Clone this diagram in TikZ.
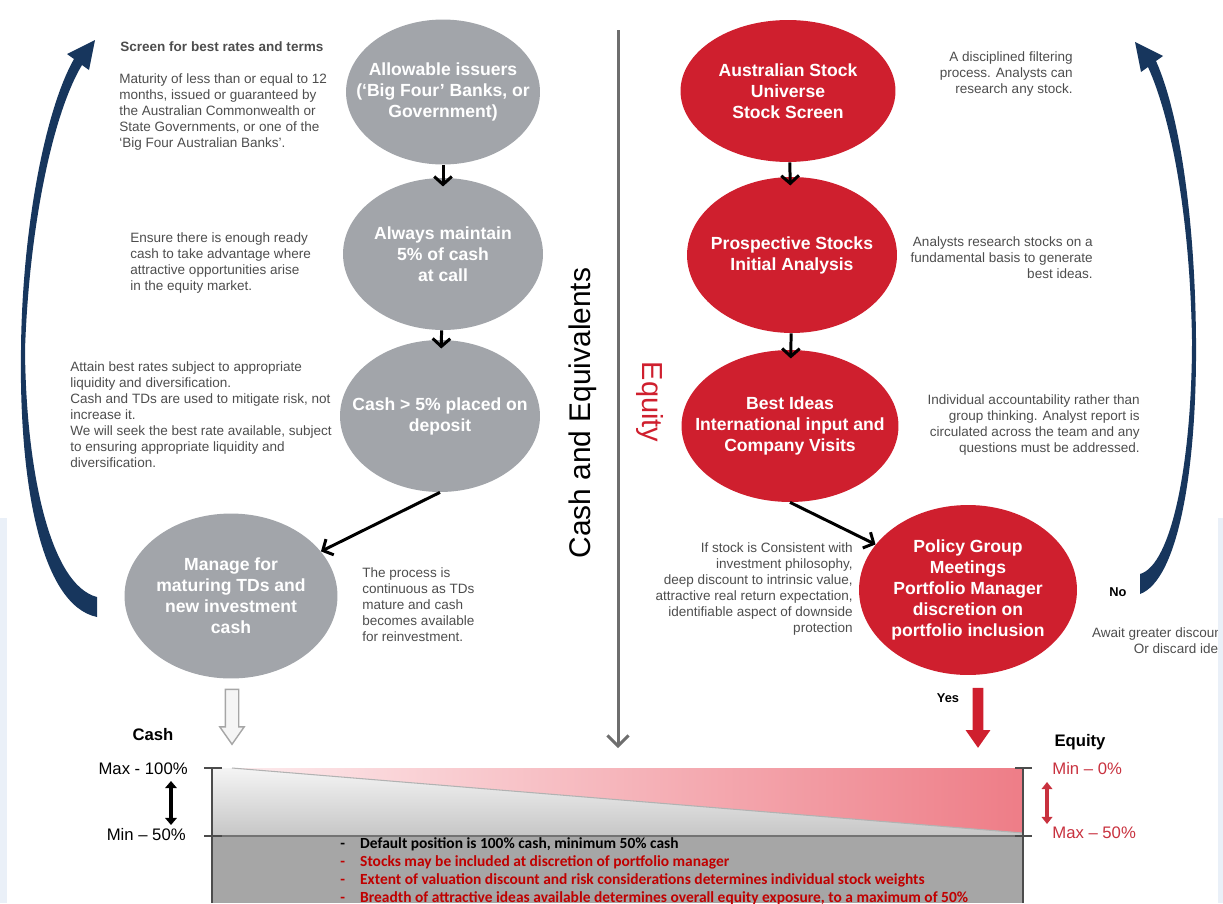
\documentclass[tikz,border=0pt]{standalone}
\usepackage{fontspec}
\setmainfont{Liberation Sans}
\newfontfamily\calibriFont{Carlito}
\usetikzlibrary{shapes.geometric,shapes.arrows,arrows.meta}
\definecolor{cashGray}{HTML}{A2A5AA}
\definecolor{equityRed}{HTML}{CF1F2E}
\definecolor{navyBlue}{HTML}{17365D}
\definecolor{noteGray}{HTML}{4D4D4D}
\definecolor{lineGray}{HTML}{6E6E6E}
\definecolor{pinkLight}{HTML}{FDEBED}
\definecolor{pinkDeep}{HTML}{EE7D87}
\definecolor{grayTop}{HTML}{F4F4F4}
\definecolor{grayBottom}{HTML}{C6C6C6}
\definecolor{chartGray}{HTML}{A6A6A6}
\definecolor{labelRed}{HTML}{C8313E}
\definecolor{bulletRed}{HTML}{C00000}
\definecolor{paleBlue}{HTML}{EAF0F8}
\newcommand{\bubbleFont}{\fontsize{10}{12}\selectfont\bfseries}
\newcommand{\noteFont}{\fontsize{7.7}{9.1}\selectfont}
\newcommand{\scaleFont}{\fontsize{9.5}{11}\selectfont}
\newcommand{\bulletFont}{\calibriFont\fontsize{8.8}{10}\selectfont\bfseries}
\newcommand{\redLine}[1]{\textcolor{bulletRed}{#1}}

\begin{document}
\begin{tikzpicture}[x=0.02cm, y=-0.02cm,
  cashNode/.style={ellipse, fill=cashGray, text=white, font=\bubbleFont, align=center, inner xsep=-12pt, inner ysep=0pt},
  equityNode/.style={cashNode, fill=equityRed},
  noteText/.style={text=noteGray, font=\noteFont, inner sep=0pt},
  flowArrow/.style={-{Straight Barb[length=4.5pt, width=10pt]}, line width=1.7pt},
  downArrow/.style={flowArrow, shorten >=-5pt},
  blockArrow/.style={single arrow, rotate=-90, inner xsep=0pt, single arrow tip angle=70},
  scaleLabel/.style={font=\scaleFont, inner sep=0pt},
  bulletLine/.style={font=\bulletFont, anchor=base west, inner sep=0pt},
  axisLine/.style={draw=black!70, line width=0.8pt}
]
  \useasboundingbox (0,0) rectangle (1223,903);

  \node[cashNode, minimum width=3.88cm, minimum height=2.9cm] (C1) at (443,92) {Allowable issuers\\(‘Big Four’ Banks, or\\Government)};
  \node[cashNode, minimum width=4cm, minimum height=3.04cm] (C2) at (443,254) {Always maintain\\5\% of cash\\at call};
  \node[cashNode, minimum width=4cm, minimum height=3.04cm] (C3) at (440,416) {Cash > 5\% placed on\\deposit};
  \node[cashNode, minimum width=4.26cm, minimum height=3.3cm] (C4) at (231,596) {Manage for\\maturing TDs and\\new investment\\cash};

  \node[equityNode, minimum width=4.3cm, minimum height=2.84cm] (R1) at (788,91) {Australian Stock\\Universe\\Stock Screen};
  \node[equityNode, minimum width=4.2cm, minimum height=3.12cm] (R2) at (792,255) {Prospective Stocks\\Initial Analysis};
  \node[equityNode, minimum width=4.34cm, minimum height=3.04cm] (R3) at (790,426) {Best Ideas\\International input and\\Company Visits};
  \node[equityNode, minimum width=4.36cm, minimum height=3.4cm] (R4) at (968,590) {Policy Group\\Meetings\\Portfolio Manager\\discretion on\\portfolio inclusion};

  \draw[downArrow] (C1) -- (C2);
  \draw[downArrow] (C2) -- (C3);
  \draw[flowArrow] (C3.south) -- (C4);
  \draw[downArrow] (R1) -- (R2);
  \draw[downArrow] (R2) -- (R3);
  \draw[flowArrow] (R3.south) -- (R4);

  \coordinate (MIDTOP) at (618,30);
  \coordinate (MIDBOT) at (618,748);
  \draw[lineGray, line width=1.7pt, -{Straight Barb[length=6pt, width=12pt]}] (MIDTOP) -- (MIDBOT);
  \node[rotate=90, font=\fontsize{17}{20}\selectfont] (SIDECASH) at (583,413) {Cash and Equivalents};
  \node[rotate=-90, text=equityRed, font=\fontsize{16.5}{20}\selectfont] (SIDEEQUITY) at (650,402) {Equity};

  \node[noteText, font=\noteFont\bfseries, anchor=north west] (SCREENHEAD) at (120,41) {Screen for best rates and terms};
  \node[noteText, anchor=north west, align=left] (MATURITY) at (119,73) {Maturity of less than or equal to 12\\months, issued or guaranteed by\\the Australian Commonwealth or\\State Governments, or one of the\\‘Big Four Australian Banks’.};
  \node[noteText, anchor=north west, align=left] (ENSURE) at (130,232) {Ensure there is enough ready\\cash to take advantage where\\attractive opportunities arise\\in the equity market.};
  \node[noteText, anchor=north west, align=left] (ATTAIN) at (70,361) {Attain best rates subject to appropriate\\liquidity and diversification.\\Cash and TDs are used to mitigate risk, not\\increase it.\\We will seek the best rate available, subject\\to ensuring appropriate liquidity and\\diversification.};
  \node[noteText, anchor=north west, align=left] (PROCESS) at (362,567) {The process is\\continuous as TDs\\mature and cash\\becomes available\\for reinvestment.};

  \node[noteText, anchor=north east, align=right] (FILTER) at (1073,51) {A disciplined filtering\\process. Analysts can\\research any stock.};
  \node[noteText, anchor=north east, align=right] (RESEARCH) at (1093,236) {Analysts research stocks on a\\fundamental basis to generate\\best ideas.};
  \node[noteText, anchor=north east, align=right] (ACCOUNT) at (1140,394) {Individual accountability rather than\\group thinking. Analyst report is\\circulated across the team and any\\questions must be addressed.};
  \node[noteText, anchor=north east, align=right] (CONSISTENT) at (853,542) {If stock is Consistent with\\investment philosophy,\\deep discount to intrinsic value,\\attractive real return expectation,\\identifiable aspect of downside\\protection};
  \node[noteText, anchor=north east, align=right] (AWAIT) at (1226,627) {Await greater discount\\Or discard idea};
  \fill[paleBlue] (0,518) rectangle (7,903);
  \fill[paleBlue] (1218,518) rectangle (1223,903);

  \fill[navyBlue] (97,617) .. controls (40,605) and (19,480) .. (21,350)
    .. controls (22,230) and (45,110) .. (74,59) -- (67,54) -- (95,40) -- (89,70) -- (82,65)
    .. controls (52,115) and (29,230) .. (25,350)
    .. controls (26,470) and (50,585) .. (97,597) -- cycle;
  \fill[navyBlue] (1140,594) .. controls (1178,580) and (1197,470) .. (1196,340)
    .. controls (1195,220) and (1180,115) .. (1156,61) -- (1163,56) -- (1135,42) -- (1141,72) -- (1148,67)
    .. controls (1172,120) and (1190,220) .. (1192,340)
    .. controls (1192,460) and (1172,565) .. (1140,574) -- cycle;
  \node[font=\fontsize{7.3}{9}\selectfont\bfseries, inner sep=0pt, anchor=base] (NO) at (1118,596) {No};
  \node[font=\fontsize{7.3}{9}\selectfont\bfseries, inner sep=0pt, anchor=base] (YES) at (948,702) {Yes};

  \node[blockArrow, draw=black!35, fill=black!4, line width=0.8pt, inner ysep=0.12cm, single arrow head extend=0.11cm, minimum height=1.1cm] (CASHDOWN) at (232,712) {};
  \node[blockArrow, fill=equityRed, inner ysep=0.1cm, single arrow head extend=0.14cm, minimum height=1.2cm] (EQUITYDOWN) at (978,714) {};

  \shade[left color=pinkLight, right color=pinkDeep] (232,768) -- (1023,768) -- (1023,833) -- cycle;
  \shade[top color=grayTop, bottom color=grayBottom] (212,768) -- (232,768) -- (1023,833) -- (1023,836) -- (212,836) -- cycle;
  \draw[black!30, line width=0.6pt] (232,768) -- (1023,833);
  \fill[chartGray] (212,836) rectangle (1023,903);
  \draw[black!55, line width=0.6pt] (212,836) -- (1023,836);
  \draw[axisLine] (212,768) -- (212,903);
  \draw[axisLine] (1023,768) -- (1023,903);
  \draw[axisLine] (204,768) -- (222,768);
  \draw[axisLine] (204,836) -- (222,836);
  \draw[axisLine] (1015,768) -- (1032,768);
  \draw[axisLine] (1015,836) -- (1032,836);

  \node[scaleLabel, font=\scaleFont\bfseries, anchor=base] (CASHHEAD) at (153,740) {Cash};
  \node[scaleLabel, anchor=base east] (CASHMAX) at (188,774) {Max - 100\%};
  \node[scaleLabel, anchor=base east] (CASHMIN) at (186,840) {Min – 50\%};
  \coordinate (CASHTOP) at (171,781);
  \coordinate (CASHBOT) at (171,825);
  \draw[line width=2.2pt, {Triangle[length=4pt, width=6.5pt]}-{Triangle[length=4pt, width=6.5pt]}] (CASHTOP) -- (CASHBOT);

  \node[scaleLabel, font=\scaleFont\bfseries, anchor=base] (EQUITYHEAD) at (1080,746) {Equity};
  \node[scaleLabel, text=labelRed, anchor=base west] (EQUITYMIN) at (1052,774) {Min – 0\%};
  \node[scaleLabel, text=labelRed, anchor=base west] (EQUITYMAX) at (1052,838) {Max – 50\%};
  \coordinate (EQUITYTOP) at (1047,782);
  \coordinate (EQUITYBOT) at (1047,824);
  \draw[labelRed, line width=2pt, {Triangle[length=4pt, width=6pt]}-{Triangle[length=4pt, width=6pt]}] (EQUITYTOP) -- (EQUITYBOT);

  \node[bulletLine] (B1) at (340,848) {\makebox[11.3pt][l]{-}Default position is 100\% cash, minimum 50\% cash};
  \node[bulletLine] (B2) at (340,866) {\redLine{\makebox[11.3pt][l]{-}Stocks may be included at discretion of portfolio manager}};
  \node[bulletLine] (B3) at (340,884) {\redLine{\makebox[11.3pt][l]{-}Extent of valuation discount and risk considerations determines individual stock weights}};
  \node[bulletLine] (B4) at (340,902) {\redLine{\makebox[11.3pt][l]{-}Breadth of attractive ideas available determines overall equity exposure, to a maximum of 50\%}};
\end{tikzpicture}
\end{document}
